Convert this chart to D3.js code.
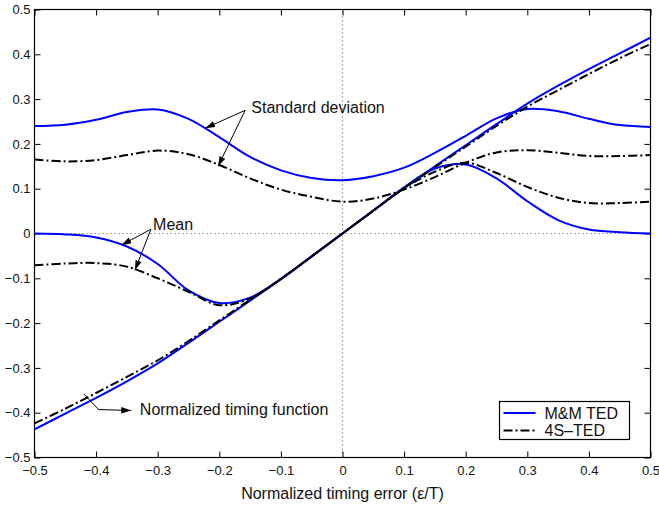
<!DOCTYPE html>
<html>
<head>
<meta charset="utf-8">
<script src="https://cdnjs.cloudflare.com/ajax/libs/d3/7.8.5/d3.min.js"></script>
<style>
  body { margin: 0; background: #fff; }
  text { font-family: "Liberation Sans", Arial, Helvetica, sans-serif; fill: #111; }
</style>
</head>
<body>
<div id="chart"></div>
<script>
// normalized timing error (eps/T)
var xVals = [-0.5, -0.45, -0.4, -0.35, -0.3, -0.25, -0.2, -0.15, -0.1, -0.05, 0,
             0.05, 0.1, 0.15, 0.2, 0.25, 0.3, 0.35, 0.4, 0.45, 0.5];

// M&M TED
var mmStd    = [0.240, 0.243, 0.254, 0.271, 0.277, 0.256, 0.215, 0.171, 0.141, 0.124, 0.119,
                0.128, 0.147, 0.180, 0.218, 0.257, 0.278, 0.273, 0.256, 0.242, 0.238];
var mmMean   = [0.000, -0.002, -0.009, -0.029, -0.068, -0.127, -0.155, -0.143, -0.102, -0.051, 0.000,
                0.051, 0.103, 0.145, 0.154, 0.123, 0.072, 0.030, 0.009, 0.003, 0.000];
var mmTiming = [-0.437, -0.402, -0.367, -0.330, -0.290, -0.244, -0.197, -0.150, -0.102, -0.051, 0.000,
                0.051, 0.102, 0.150, 0.197, 0.244, 0.290, 0.330, 0.367, 0.402, 0.437];

// 4S-TED
var tsStd    = [0.165, 0.161, 0.164, 0.175, 0.185, 0.177, 0.153, 0.123, 0.098, 0.082, 0.071,
                0.078, 0.098, 0.126, 0.158, 0.181, 0.186, 0.180, 0.173, 0.173, 0.175];
var tsMean   = [-0.071, -0.067, -0.066, -0.074, -0.100, -0.130, -0.160, -0.145, -0.101, -0.051, 0.000,
                0.051, 0.101, 0.138, 0.158, 0.135, 0.104, 0.080, 0.068, 0.068, 0.071];
var tsTiming = [-0.424, -0.391, -0.356, -0.320, -0.283, -0.240, -0.194, -0.148, -0.101, -0.051, 0.000,
                0.051, 0.101, 0.148, 0.194, 0.240, 0.283, 0.320, 0.356, 0.391, 0.423];

var xTicks = [-0.5, -0.4, -0.3, -0.2, -0.1, 0, 0.1, 0.2, 0.3, 0.4, 0.5];
var yTicks = [-0.5, -0.4, -0.3, -0.2, -0.1, 0, 0.1, 0.2, 0.3, 0.4, 0.5];

var seriesNames = ["M&M TED", "4S\u2013TED"];

// annotation text anchors and arrow points, in data units
var stdNote    = {text: "Standard deviation", x: -0.148, y: 0.269,
                  from: [-0.158, 0.275], tips: [[-0.223, 0.235], [-0.202, 0.150]]};
var meanNote   = {text: "Mean", x: -0.3075, y: 0.007,
                  from: [-0.311, 0.0095], tips: [[-0.359, -0.026], [-0.337, -0.082]]};
var timingNote = {text: "Normalized timing function", x: -0.329, y: -0.406,
                  path: [[-0.420, -0.358], [-0.396, -0.393], [-0.343, -0.395]]};

function init(){
    var w = 659;
    var h = 509;

    var x = d3.scaleLinear().domain([-0.5, 0.5]).range([34.5, 650.5]);
    var y = d3.scaleLinear().domain([-0.5, 0.5]).range([457.5, 9.5]);

    var svg = d3.select("#chart")
                .append("svg")
                .attr("width", w)
                .attr("height", h)
                .style("background-color", "#fff");

    var fmt = function(d){
        if (d === 0) return "0";
        return d3.format(".1f")(d).replace("-", "\u2212");
    };

    // arrow head
    svg.append("defs").append("marker")
        .attr("id", "head")
        .attr("markerUnits", "userSpaceOnUse")
        .attr("markerWidth", 12)
        .attr("markerHeight", 10)
        .attr("viewBox", "0 -5 12 10")
        .attr("refX", 10)
        .attr("refY", 0)
        .attr("orient", "auto")
        .append("path")
        .attr("d", "M0,-3.2L10,0L0,3.2Z")
        .attr("fill", "#000");

    // zero reference lines
    svg.append("line")
        .attr("x1", x(-0.5)).attr("x2", x(0.5))
        .attr("y1", y(0)).attr("y2", y(0))
        .attr("stroke", "#555").attr("stroke-width", 1)
        .attr("stroke-dasharray", "1,3");
    svg.append("line")
        .attr("x1", x(0)).attr("x2", x(0))
        .attr("y1", y(-0.5)).attr("y2", y(0.5))
        .attr("stroke", "#555").attr("stroke-width", 1)
        .attr("stroke-dasharray", "1,3");

    // axes, ticks pointing inwards
    var bottom = svg.append("g")
        .attr("transform", "translate(0," + y(-0.5) + ")")
        .call(d3.axisBottom(x).tickValues(xTicks).tickFormat(fmt)
              .tickSizeInner(-6).tickSizeOuter(0).tickPadding(8));
    var top = svg.append("g")
        .attr("transform", "translate(0," + y(0.5) + ")")
        .call(d3.axisTop(x).tickValues(xTicks).tickFormat("")
              .tickSizeInner(-6).tickSizeOuter(0));
    var left = svg.append("g")
        .attr("transform", "translate(" + x(-0.5) + ",0)")
        .call(d3.axisLeft(y).tickValues(yTicks).tickFormat(fmt)
              .tickSizeInner(-6).tickSizeOuter(0).tickPadding(4));
    var right = svg.append("g")
        .attr("transform", "translate(" + x(0.5) + ",0)")
        .call(d3.axisRight(y).tickValues(yTicks).tickFormat("")
              .tickSizeInner(-6).tickSizeOuter(0));

    [bottom, top, left, right].forEach(function(g){
        g.select(".domain").remove();
        g.selectAll(".tick line").attr("stroke", "#000");
        g.selectAll(".tick text")
            .style("font-family", "Liberation Sans, Arial, sans-serif")
            .style("font-size", "13px")
            .attr("fill", "#111");
    });

    // frame
    svg.append("rect")
        .attr("x", x(-0.5)).attr("y", y(0.5))
        .attr("width", x(0.5) - x(-0.5))
        .attr("height", y(-0.5) - y(0.5))
        .attr("fill", "none")
        .attr("stroke", "#000")
        .attr("stroke-width", 1.2);

    var line = d3.line()
        .x(function(d){ return x(d[0]); })
        .y(function(d){ return y(d[1]); })
        .curve(d3.curveCatmullRom);

    function pts(vals){
        return xVals.map(function(v, i){ return [v, vals[i]]; });
    }

    var blue = "#0000ff";
    var dashDot = "9,3,2,3";

    var curves = [
        {vals: mmTiming, color: blue, dash: null},
        {vals: mmMean,   color: blue, dash: null},
        {vals: mmStd,    color: blue, dash: null},
        {vals: tsTiming, color: "#000", dash: dashDot},
        {vals: tsMean,   color: "#000", dash: dashDot},
        {vals: tsStd,    color: "#000", dash: dashDot}
    ];

    svg.selectAll("path.curve")
        .data(curves)
        .enter()
        .append("path")
        .attr("class", "curve")
        .attr("d", function(d){ return line(pts(d.vals)); })
        .attr("fill", "none")
        .attr("stroke", function(d){ return d.color; })
        .attr("stroke-width", 2)
        .attr("stroke-dasharray", function(d){ return d.dash; });

    // annotations
    function note(n){
        svg.append("text")
            .attr("x", x(n.x)).attr("y", y(n.y))
            .style("font-size", "16px")
            .text(n.text);
    }
    [stdNote, meanNote].forEach(function(n){
        note(n);
        n.tips.forEach(function(t){
            svg.append("line")
                .attr("x1", x(n.from[0])).attr("y1", y(n.from[1]))
                .attr("x2", x(t[0])).attr("y2", y(t[1]))
                .attr("stroke", "#000").attr("stroke-width", 1)
                .attr("marker-end", "url(#head)");
        });
    });
    note(timingNote);
    svg.append("path")
        .attr("d", d3.line()
            .x(function(d){ return x(d[0]); })
            .y(function(d){ return y(d[1]); })(timingNote.path))
        .attr("fill", "none")
        .attr("stroke", "#000").attr("stroke-width", 1)
        .attr("marker-end", "url(#head)");

    // x axis title
    svg.append("text")
        .attr("x", x(0))
        .attr("y", 499)
        .attr("text-anchor", "middle")
        .style("font-size", "16px")
        .text("Normalized timing error (\u03b5/T)");

    // legend
    var lg = svg.append("g").attr("transform", "translate(499.5,401.5)");
    lg.append("rect")
        .attr("width", 130).attr("height", 38)
        .attr("fill", "#fff")
        .attr("stroke", "#000").attr("stroke-width", 1.2);
    var items = lg.selectAll("g.item")
        .data(seriesNames)
        .enter()
        .append("g")
        .attr("transform", function(d, i){ return "translate(0," + (11.5 + i * 17.5) + ")"; });
    items.append("line")
        .attr("x1", 4).attr("x2", 36)
        .attr("stroke", function(d, i){ return i === 0 ? blue : "#000"; })
        .attr("stroke-width", 2)
        .attr("stroke-dasharray", function(d, i){ return i === 0 ? null : dashDot; });
    items.append("text")
        .attr("x", 45)
        .attr("dy", "0.36em")
        .style("font-size", "16px")
        .text(function(d){ return d; });
}
window.onload = init;
</script>
</body>
</html>
